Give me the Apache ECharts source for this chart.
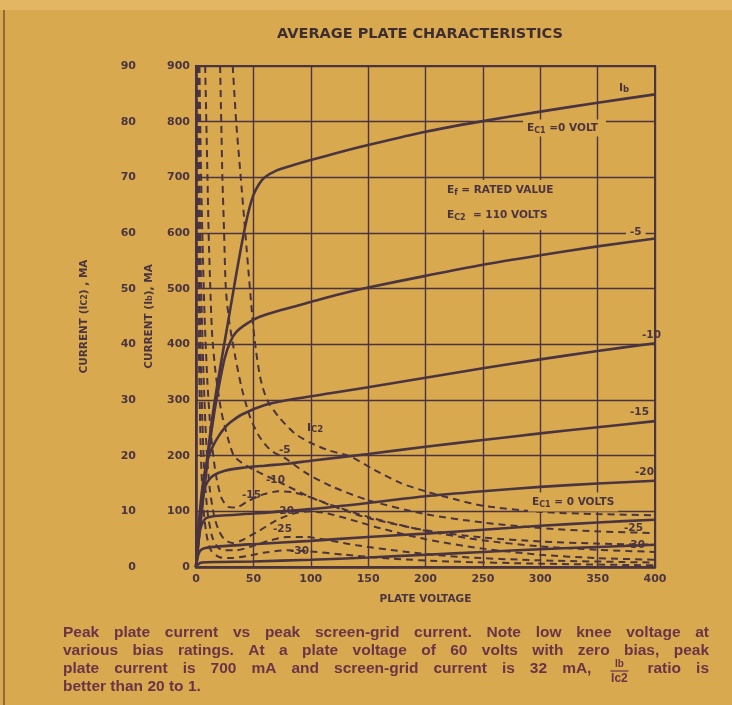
<!DOCTYPE html>
<html><head><meta charset="utf-8">
<script src="https://cdn.jsdelivr.net/npm/echarts@6/dist/echarts.min.js"></script>
<style>html,body{margin:0;padding:0;background:#d9a950;}#c{width:732px;height:705px;}</style>
</head><body><div id="c"></div>
<script>
// ---------- DATA (plate voltage V, current) ----------
const xTicks = [0, 50, 100, 150, 200, 250, 300, 350, 400];
const ibTicks = [0, 100, 200, 300, 400, 500, 600, 700, 800, 900];
const ic2Ticks = [0, 10, 20, 30, 40, 50, 60, 70, 80, 90];
const biasNames = ['0', '-5', '-10', '-15', '-20', '-25', '-30'];

// Plate current Ib (mA) for each grid-1 bias
const ib_0   = [[0,0],[5,105],[10,200],[15,280],[20,345],[25,405],[30,465],[35,525],[40,582],[45,632],[50,668],[55,688],[60,700],[70,712],[85,722],[100,731],[125,745],[150,758],[200,782],[250,801],[300,818],[350,834],[400,849]];
const ib_m5  = [[0,0],[5,100],[10,190],[15,265],[20,325],[25,375],[30,405],[35,422],[45,438],[55,449],[75,462],[100,476],[125,490],[150,502],[200,523],[250,543],[300,560],[350,576],[400,590]];
const ib_m10 = [[0,0],[3,90],[6,150],[10,192],[15,218],[20,236],[25,250],[30,260],[40,274],[60,291],[80,300],[117,312],[150,323],[200,340],[250,357],[300,373],[350,388],[400,402]];
const ib_m15 = [[0,0],[2,60],[4,105],[7,138],[10,153],[15,164],[25,173],[40,178],[60,182],[82,186],[100,191],[150,203],[200,216],[250,228],[300,240],[350,251],[400,262]];
const ib_m20 = [[0,0],[2,45],[4,70],[7,84],[10,89],[20,92],[50,96],[100,104],[150,115],[200,127],[250,136],[300,144],[350,150],[400,155]];
const ib_m25 = [[0,0],[2,22],[4,30],[8,34],[20,37],[50,41],[100,47],[150,54],[200,60],[250,67],[300,74],[350,80],[400,85]];
const ib_m30 = [[0,0],[2,5],[5,8],[20,9],[50,10],[100,13],[150,17],[200,22],[250,27],[300,32],[350,36],[400,40]];

// Screen-grid current Ic2 (mA) for each grid-1 bias
const ic2_0   = [[32,90],[35,80],[39,70],[43,60],[47,50],[51,41],[56,34],[62,30],[72,27],[86,24],[100,22.3],[115,21],[135,19.8],[155,17.5],[178,15.1],[200,13.6],[225,12.2],[250,11],[300,9.9],[350,9.5],[400,9.3]];
const ic2_m5  = [[21,90],[22,80],[23,70],[24.5,60],[26,50],[29,44],[34,38],[40,32],[47,27],[55,23.5],[65,21],[78,19.5],[95,17],[118,14.5],[150,12],[200,9.5],[250,8],[300,7],[350,6.4],[400,6.1]];
const ic2_m10 = [[8,90],[9,80],[10,70],[11,60],[12.5,50],[14,42],[17,35],[22,28],[28,23],[33,20],[40,18.7],[50,17.5],[65,16],[80,14.5],[100,12.5],[125,10.5],[150,8.8],[200,6.6],[250,5.3],[300,4.6],[350,4.2],[400,4.0]];
const ic2_m15 = [[3,90],[4,75],[5.5,60],[7.5,45],[10,33],[13,24],[17,17],[22,12.5],[28,10.8],[35,10.7],[45,11.8],[58,13],[72,13.6],[85,13.4],[100,12.5],[120,11],[150,9],[200,6.5],[250,4.8],[300,3.7],[350,3.1],[400,2.7]];
const ic2_m20 = [[2,90],[3,70],[4.5,50],[6.5,35],[9,22],[12,14],[16,9],[20,6.5],[25,4.9],[32,4.3],[40,4.8],[55,6.5],[70,8.4],[85,9.6],[100,10],[115,9.6],[135,8.5],[160,7],[200,5],[250,3.3],[300,2.2],[350,1.6],[400,1.3]];
const ic2_m25 = [[1.5,90],[2.3,65],[3.5,45],[5,30],[7,18],[10,10],[14,5.5],[19,3.5],[25,3],[35,3],[50,3.8],[65,4.8],[80,5.4],[95,5.4],[115,4.8],[140,3.9],[180,2.8],[230,1.8],[300,1.2],[400,0.8]];
const ic2_m30 = [[1,90],[1.6,60],[2.5,40],[4,22],[6,12],[9,6],[13,3],[20,1.8],[30,1.6],[45,2],[60,2.6],[80,3],[100,2.8],[130,2.2],[170,1.5],[220,1],[300,0.6],[400,0.3]];

const ibCurves = [ib_0, ib_m5, ib_m10, ib_m15, ib_m20, ib_m25, ib_m30];
const ic2Curves = [ic2_0, ic2_m5, ic2_m10, ic2_m15, ic2_m20, ic2_m25, ic2_m30];

const titleText = 'AVERAGE PLATE CHARACTERISTICS';
const captionLines = [
  'Peak plate current vs peak screen-grid current. Note low knee voltage at',
  'various bias ratings. At a plate voltage of 60 volts with zero bias, peak',
  'plate current is 700 mA and screen-grid current is 32 mA, {FRAC} ratio is',
  'better than 20 to 1.'
];

// ---------- STYLE ----------
const BG = '#d9a950';
const INK = '#4a3440';
const CAP = '#6a3446';
const LET = '"DejaVu Sans",sans-serif';

const chart = echarts.init(document.getElementById('c'), null, {renderer: 'canvas'});

const series = [];
ibCurves.forEach((d, i) => series.push({
  name: 'Ib ' + biasNames[i], type: 'line', data: d, xAxisIndex: 0, yAxisIndex: 0,
  showSymbol: false, smooth: 0.25, silent: true,
  lineStyle: {color: INK, width: 2.6}, z: 5
}));
ic2Curves.forEach((d, i) => series.push({
  name: 'Ic2 ' + biasNames[i], type: 'line', data: d, xAxisIndex: 0, yAxisIndex: 1,
  showSymbol: false, smooth: 0.25, silent: true,
  lineStyle: {color: INK, width: 2, type: [7, 5]}, z: 4
}));

function richStyle(size) {
  return {
    m: {fontSize: size, fontFamily: LET, fontWeight: 'bold', fill: INK, lineHeight: 13},
    s: {fontSize: size - 2.5, fontFamily: LET, fontWeight: 'bold', fill: INK, lineHeight: 4, verticalAlign: 'bottom'}
  };
}
function note(x, y, text, opts) {
  opts = opts || {};
  const size = opts.size || 10.5;
  return {
    type: 'text', x: x, y: y, z: 50,
    style: Object.assign({
      text: text, rich: richStyle(size),
      fontSize: size, fontFamily: LET, fontWeight: 'bold', fill: INK,
      align: opts.align || 'left', verticalAlign: 'middle'
    }, opts.bg ? {backgroundColor: BG, padding: opts.pad || [1, 3]} : {})
  };
}

const graphics = [
  {type: 'rect', shape: {x: 0, y: 0, width: 732, height: 10}, style: {fill: '#e3b663'}, z: 0},
  {type: 'line', shape: {x1: 4, y1: 10, x2: 4, y2: 705}, style: {stroke: '#8c6a3c', lineWidth: 2}, z: 1},
  {type: 'text', x: 420, y: 34, z: 50, style: {text: titleText, fontSize: 14.5, fontFamily: LET, fontWeight: 'bold', fill: '#3f2e30', align: 'center', verticalAlign: 'middle'}},
  note(619, 88, '{m|I}{s|b}', {size: 11}),
  note(523, 128, '{m|E}{s|C1}{m| =0 VOLT}', {bg: true, pad: [2, 8, 2, 4]}),
  {type: 'rect', shape: {x: 443, y: 180, width: 138, height: 50}, style: {fill: BG}, z: 45},
  note(447, 190, '{m|E}{s|f}{m| = RATED VALUE}'),
  note(447, 215, '{m|E}{s|C2}{m|  = 110 VOLTS}'),
  note(626, 232, '-5', {bg: true, pad: [0, 4]}),
  note(642, 335, '-10'),
  note(630, 412, '-15'),
  note(635, 472, '-20'),
  note(528, 502, '{m|E}{s|C1}{m| = 0 VOLTS}', {bg: true, pad: [3, 4]}),
  note(624, 528, '-25'),
  note(626, 545, '-30'),
  note(307, 428, '{m|I}{s|C2}', {size: 11}),
  note(279, 450, '-5'),
  note(266, 480, '-10'),
  note(242, 495, '-15'),
  note(275, 511, '-20'),
  note(273, 529, '-25'),
  note(290, 551, '-30')
];

// justified caption, words measured on a canvas
const mc = document.createElement('canvas').getContext('2d');
const capFont = 'bold 15.5px "Liberation Sans"';
mc.font = capFont;
const capLeft = 63, capRight = 709, capY0 = 633, capDy = 18, fracW = 26;
captionLines.forEach((line, li) => {
  const words = line.split(' ');
  const widths = words.map(w => w === '{FRAC}' ? fracW : mc.measureText(w).width);
  const total = widths.reduce((a, b) => a + b, 0);
  const last = li === captionLines.length - 1;
  const gap = last ? mc.measureText(' ').width : (capRight - capLeft - total) / (words.length - 1);
  let x = capLeft;
  const y = capY0 + li * capDy;
  words.forEach((w, wi) => {
    if (w === '{FRAC}') {
      const cx = x + fracW / 2;
      graphics.push({type: 'text', x: cx, y: y - 5, z: 50, style: {text: 'Ib', font: 'bold 10px "Liberation Sans"', fill: CAP, align: 'center', verticalAlign: 'middle'}});
      graphics.push({type: 'line', shape: {x1: cx - 9, y1: y + 2, x2: cx + 9, y2: y + 2}, style: {stroke: CAP, lineWidth: 1.2}, z: 50});
      graphics.push({type: 'text', x: cx, y: y + 10, z: 50, style: {text: 'Ic2', font: 'bold 12px "Liberation Sans"', fill: CAP, align: 'center', verticalAlign: 'middle'}});
    } else {
      graphics.push({type: 'text', x: x, y: y, z: 50, style: {text: w, font: capFont, fill: CAP, align: 'left', verticalAlign: 'middle'}});
    }
    x += widths[wi] + gap;
  });
});

const axisLabelStyle = {fontSize: 11, fontFamily: LET, fontWeight: 'bold', color: INK};
const nameRich = {
  m: {fontSize: 10.5, fontFamily: LET, fontWeight: 'bold', color: INK},
  s: {fontSize: 8, fontFamily: LET, fontWeight: 'bold', color: INK}
};

chart.setOption({
  backgroundColor: BG,
  animation: false,
  grid: {left: 196, top: 66, width: 459, height: 501, show: true, borderColor: INK, borderWidth: 2, backgroundColor: 'transparent'},
  xAxis: [{
    type: 'value', min: 0, max: 400, interval: 50,
    name: 'PLATE VOLTAGE', nameLocation: 'middle', nameGap: 27,
    nameTextStyle: {fontSize: 10.5, fontFamily: LET, fontWeight: 'bold', color: INK},
    axisLine: {show: true, lineStyle: {color: INK, width: 2.5}},
    axisTick: {show: false},
    axisLabel: Object.assign({margin: 7, formatter: v => xTicks.includes(v) ? String(v) : ''}, axisLabelStyle),
    splitLine: {show: true, lineStyle: {color: INK, width: 1.4}}
  }],
  yAxis: [{
    type: 'value', min: 0, max: 900, interval: 100, position: 'left',
    name: '{m|CURRENT (I}{s|b}{m|), MA}', nameLocation: 'middle', nameGap: 41, nameRotate: 90,
    nameTextStyle: {rich: nameRich},
    axisLine: {show: true, lineStyle: {color: INK, width: 2.5}},
    axisTick: {show: false},
    axisLabel: Object.assign({margin: 6, formatter: v => ibTicks.includes(v) ? String(v) : ''}, axisLabelStyle),
    splitLine: {show: true, lineStyle: {color: INK, width: 1.4}}
  }, {
    type: 'value', min: 0, max: 90, interval: 10, position: 'left', offset: 54,
    name: '{m|CURRENT (I}{s|C2}{m|) , MA}', nameLocation: 'middle', nameGap: 52, nameRotate: 90,
    nameTextStyle: {rich: nameRich},
    axisLine: {show: false}, axisTick: {show: false}, splitLine: {show: false},
    axisLabel: Object.assign({margin: 6, formatter: v => ic2Ticks.includes(v) ? String(v) : ''}, axisLabelStyle)
  }],
  series: series,
  graphic: graphics
});
</script>
</body></html>
